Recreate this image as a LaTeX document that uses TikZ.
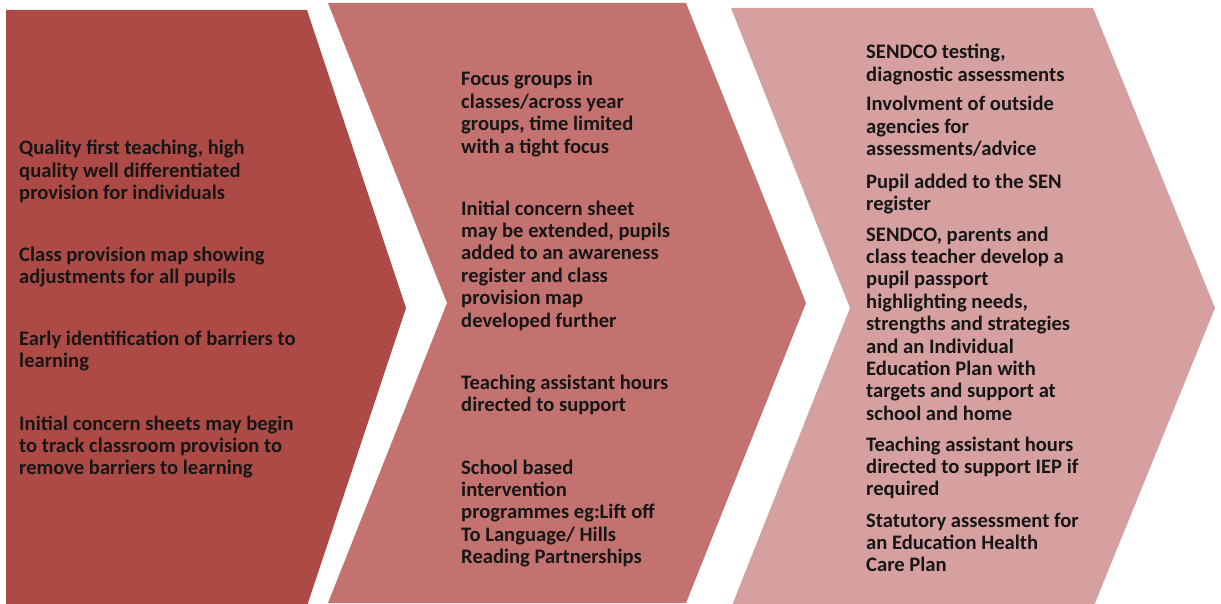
\documentclass[tikz,border=0pt]{standalone}
\usepackage{fontspec}
\setmainfont{Carlito}
\definecolor{stageone}{HTML}{AD4A46}
\definecolor{stagetwo}{HTML}{C4726F}
\definecolor{stagethree}{HTML}{D7A0A0}
\definecolor{txt}{HTML}{161616}
\begin{document}
\begin{tikzpicture}[x=1pt,y=-1pt,
  item/.style={anchor=base west,align=left,inner sep=0pt,text=txt,
    font=\fontsize{20.6}{22.4}\selectfont\bfseries}]
\def \xa {19};
\def \xb {461};
\def \xc {866};
\def \ls {22.4};
\useasboundingbox (0,0) rectangle (1221,604);
\clip (0,0) rectangle (1221,604);
% Pfeile
\fill[stageone] (6,10) -- (307,10) -- (406,308) -- (307,606) -- (6,606) -- cycle;
\fill[stagetwo] (328,3) -- (686,3) -- (806,303) -- (686,603) -- (328,603) -- (447,303) -- cycle;
\fill[stagethree] (731,8) -- (1093,8) -- (1215,308) -- (1093,608) -- (731,608) -- (850,308) -- cycle;
% erste Stufe (Knoten sitzen auf der letzten Zeile)
\node[item] (quality) at (\xa,{155+2*\ls}) {Quality first teaching, high\\quality well differentiated\\provision for individuals};
\node[item] (classmap) at (\xa,{261+\ls}) {Class provision map showing\\adjustments for all pupils};
\node[item] (early) at (\xa,{345+\ls}) {Early identification of barriers to\\learning};
\node[item] (concern) at (\xa,{430+2*\ls}) {Initial concern sheets may begin\\to track classroom provision to\\remove barriers to learning};
% zweite Stufe
\node[item] (focus) at (\xb,{86+3*\ls}) {Focus groups in\\classes/across year\\groups, time limited\\with a tight focus};
\node[item] (sheet) at (\xb,{215+5*\ls}) {Initial concern sheet\\may be extended, pupils\\added to an awareness\\register and class\\provision map\\developed further};
\node[item] (tahours) at (\xb,{389+\ls}) {Teaching assistant hours\\directed to support};
\node[item] (school) at (\xb,{474+4*\ls}) {School based\\intervention\\programmes eg:Lift off\\To Language/ Hills\\Reading Partnerships};
% dritte Stufe
\node[item] (testing) at (\xc,{59+\ls}) {SENDCO testing,\\diagnostic assessments};
\node[item] (agencies) at (\xc,{111+2*\ls}) {Involvment of outside\\agencies for\\assessments/advice};
\node[item] (register) at (\xc,{188+\ls}) {Pupil added to the SEN\\register};
\node[item] (passport) at (\xc,{241+8*\ls}) {SENDCO, parents and\\class teacher develop a\\pupil passport\\highlighting needs,\\strengths and strategies\\and an Individual\\Education Plan with\\targets and support at\\school and home};
\node[item] (iep) at (\xc,{451+2*\ls}) {Teaching assistant hours\\directed to support IEP if\\required};
\node[item] (ehcp) at (\xc,{527+2*\ls}) {Statutory assessment for\\an Education Health\\Care Plan};
\end{tikzpicture}
\end{document}
